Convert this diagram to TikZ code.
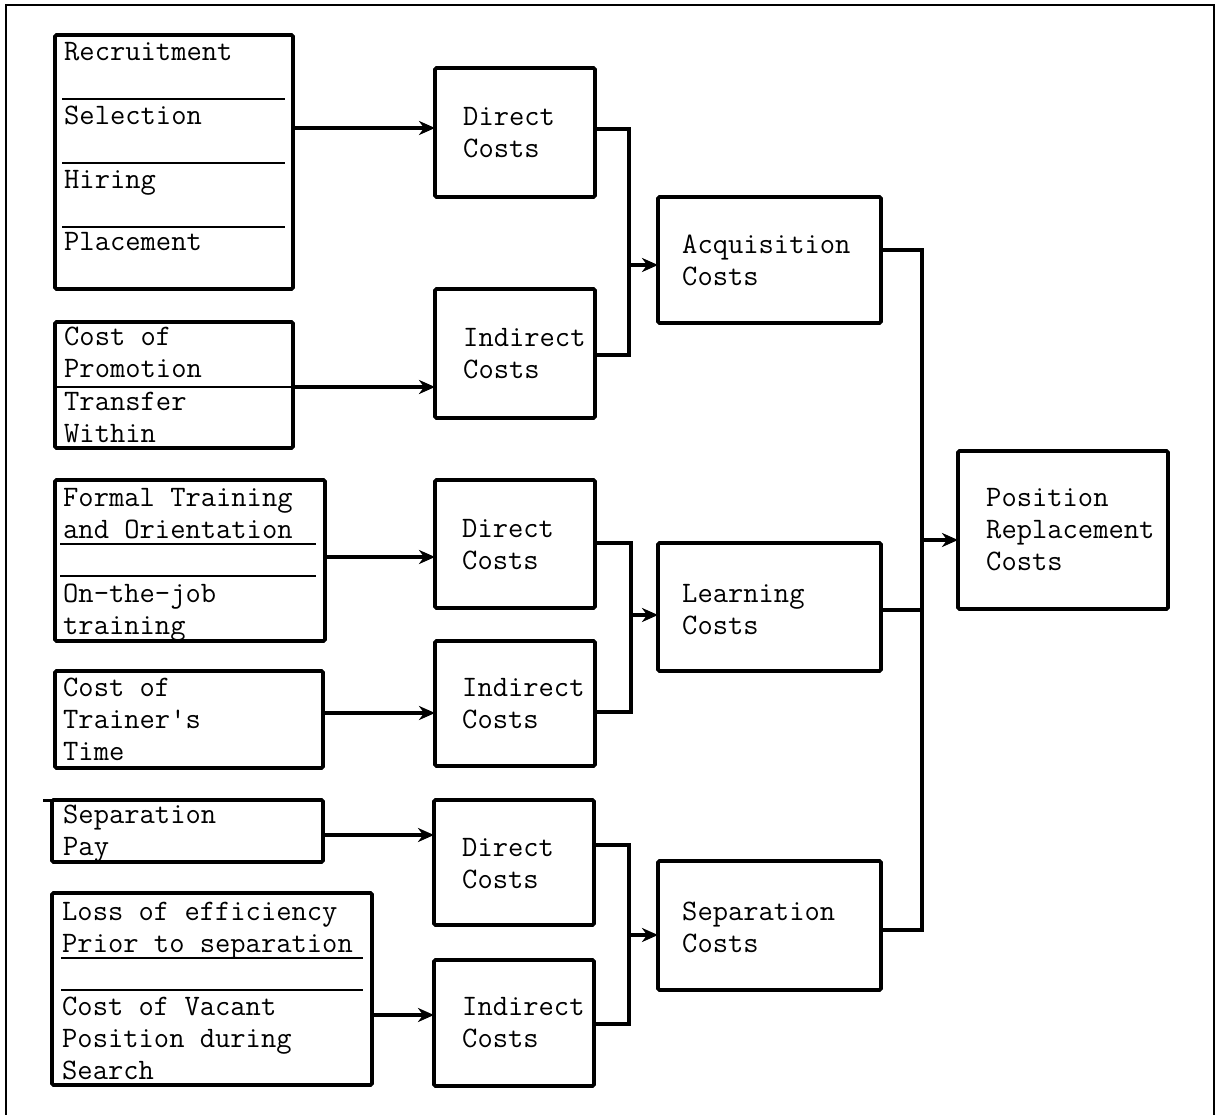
\documentclass[tikz,border=0pt]{standalone}
\usetikzlibrary{arrows.meta}
\begin{document}
\begin{tikzpicture}[x=1pt,y=-1pt,
  box/.style={draw, line width=3.8pt, rounded corners=1.5pt, inner sep=0pt, outer sep=0pt, anchor=north west},
  txt/.style={font=\fontsize{29.7}{31.9}\selectfont\ttfamily, align=left, inner sep=0pt, anchor=north west},
  conn/.style={line width=3.2pt},
  arr/.style={conn, -{Stealth[length=16pt,width=14pt,inset=5pt]}},
  divline/.style={line width=1.8pt},
  frameline/.style={line width=2pt}]
\useasboundingbox (0,0) rectangle (1220,1115);
% frame
\draw[frameline] (6,1115) -- (6,5) -- (1214,5) -- (1214,1115);

% left column boxes
\node[box, minimum width=238pt, minimum height=254pt] (R) at (55,35) {};
\node[box, minimum width=238pt, minimum height=126pt] (P) at (55,322) {};
\node[box, minimum width=270pt, minimum height=161pt] (F) at (55,480) {};
\node[box, minimum width=268pt, minimum height=97pt] (T) at (55,671) {};
\node[box, minimum width=271pt, minimum height=62pt] (S) at (52,800) {};
\node[box, minimum width=320pt, minimum height=192pt] (L) at (52,893) {};

% middle boxes
\node[box, minimum width=160pt, minimum height=129pt] (D1) at (435,68) {};
\node[box, minimum width=160pt, minimum height=129pt] (I2) at (435,289) {};
\node[box, minimum width=160pt, minimum height=128pt] (D3) at (435,480) {};
\node[box, minimum width=160pt, minimum height=125pt] (I4) at (435,641) {};
\node[box, minimum width=160pt, minimum height=125pt] (D5) at (434,800) {};
\node[box, minimum width=160pt, minimum height=126pt] (I6) at (434,960) {};

% cost boxes
\node[box, minimum width=223pt, minimum height=126pt] (A) at (658,197) {};
\node[box, minimum width=223pt, minimum height=128pt] (Le) at (658,543) {};
\node[box, minimum width=223pt, minimum height=129pt] (Se) at (658,861) {};
\node[box, minimum width=210pt, minimum height=158pt] (Po) at (958,451) {};

% dividers
\draw[divline] (62,99) -- (285,99);
\draw[divline] (62,163) -- (285,163);
\draw[divline] (62,227) -- (285,227);
\draw[divline] (P.west |- 0,387) -- (P.east |- 0,387);
\draw[divline] (60,544) -- (316,544);
\draw[divline] (60,576) -- (316,576);
\draw[divline] (61,958) -- (363,958);
\draw[divline] (61,990) -- (363,990);
\draw[line width=3pt] (43,800) -- (S.north west);

% texts
\node[txt] (tR1) at (64,38) {\strut Recruitment};
\node[txt] (tR2) at (64,102) {\strut Selection};
\node[txt] (tR3) at (64,166) {\strut Hiring};
\node[txt] (tR4) at (64,228) {\strut Placement};
\node[txt] (tP1) at (64,323) {\strut Cost of\\Promotion};
\node[txt] (tP2) at (64,388) {\strut Transfer\\Within};
\node[txt] (tF1) at (63,484) {\strut Formal Training\\and Orientation};
\node[txt] (tF2) at (63,580) {\strut On-the-job\\training};
\node[txt] (tT) at (63,674) {\strut Cost of\\Trainer's\\Time};
\node[txt] (tS) at (63,801) {\strut Separation\\Pay};
\node[txt] (tL1) at (62,898) {\strut Loss of efficiency\\Prior to separation};
\node[txt] (tL2) at (62,993) {\strut Cost of Vacant\\Position during\\Search};

\node[txt] (tD1) at (463,103) {\strut Direct\\Costs};
\node[txt] (tI2) at (463,324) {\strut Indirect\\Costs};
\node[txt] (tD3) at (462,515) {\strut Direct\\Costs};
\node[txt] (tI4) at (462,674) {\strut Indirect\\Costs};
\node[txt] (tD5) at (462,834) {\strut Direct\\Costs};
\node[txt] (tI6) at (462,993) {\strut Indirect\\Costs};

\node[txt] (tA) at (682,231) {\strut Acquisition\\Costs};
\node[txt] (tLe) at (682,580) {\strut Learning\\Costs};
\node[txt] (tSe) at (682,898) {\strut Separation\\Costs};
\node[txt] (tPo) at (986,484) {\strut Position\\Replacement\\Costs};

% input arrows
\draw[arr] (R.east |- 0,128) -- (D1.west |- 0,128);
\draw[arr] (P.east |- 0,387) -- (I2.west |- 0,387);
\draw[arr] (F.east |- 0,557) -- (D3.west |- 0,557);
\draw[arr] (T.east |- 0,713) -- (I4.west |- 0,713);
\draw[arr] (S.east |- 0,835) -- (D5.west |- 0,835);
\draw[arr] (L.east |- 0,1015) -- (I6.west |- 0,1015);

% joins
\coordinate (j1) at (629,265);
\coordinate (j2) at (631,615);
\coordinate (j3) at (629,935);
\coordinate (j4) at (922,540);
\draw[conn] (D1.east |- 0,129) -| (j1) |- (I2.east |- 0,355);
\draw[arr] (j1) -- (A.west |- j1);
\draw[conn] (D3.east |- 0,543) -| (j2) |- (I4.east |- 0,712);
\draw[arr] (j2) -- (Le.west |- j2);
\draw[conn] (D5.east |- 0,845) -| (j3) |- (I6.east |- 0,1024);
\draw[arr] (j3) -- (Se.west |- j3);

\draw[conn] (A.east |- 0,250) -| (j4) |- (Se.east |- 0,930);
\draw[conn] (Le.east |- 0,610) -- (j4 |- 0,610);
\draw[arr] (j4) -- (Po.west |- j4);
\end{tikzpicture}
\end{document}
